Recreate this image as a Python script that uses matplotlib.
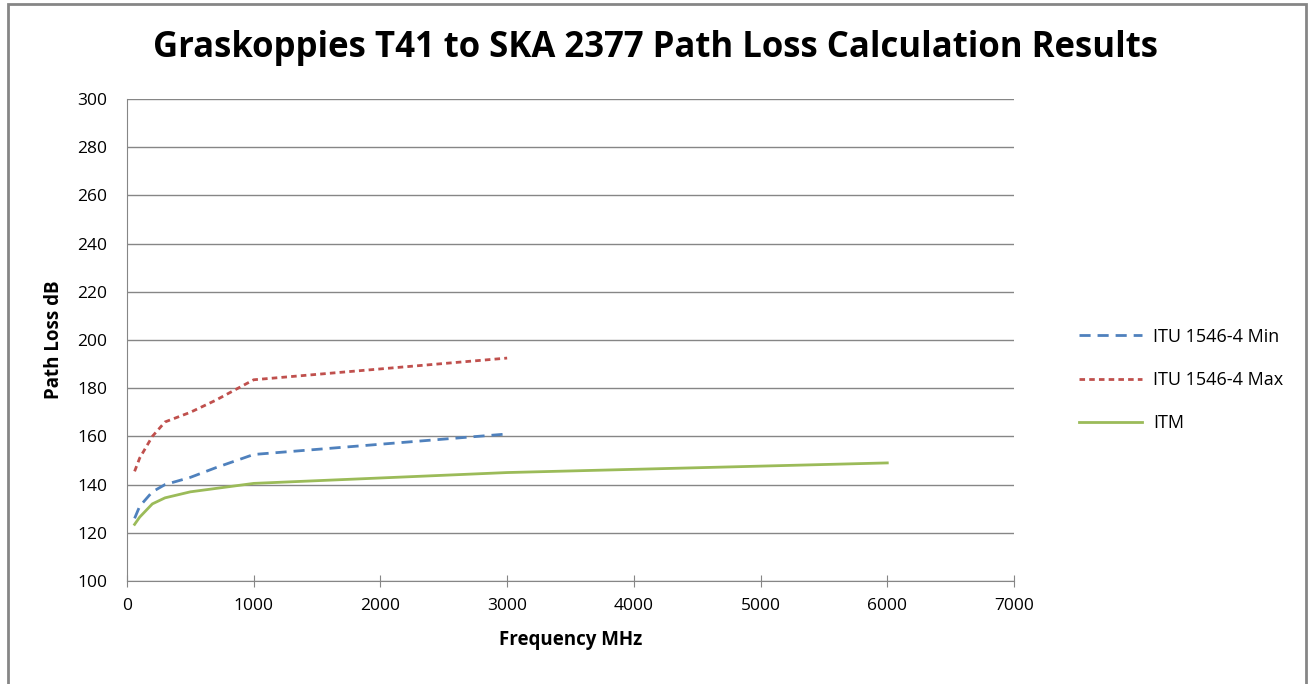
import matplotlib
matplotlib.use('Agg')
import matplotlib.pyplot as plt
from matplotlib.patches import Rectangle

plt.rcParams['font.family'] = ['Open Sans', 'DejaVu Sans']

# data
freq_itu = [60, 100, 200, 300, 500, 700, 1000, 3000]
itu_min = [126, 131, 137, 140, 143, 147, 152.5, 161]
itu_max = [145.5, 151, 160, 166, 170, 175, 183.5, 192.5]

freq_itm = [60, 100, 200, 300, 500, 1000, 3000, 6000]
itm = [123.5, 126.5, 132, 134.5, 137, 140.5, 145, 149]

x_ticks = [0, 1000, 2000, 3000, 4000, 5000, 6000, 7000]
y_ticks = [100, 120, 140, 160, 180, 200, 220, 240, 260, 280, 300]

fig = plt.figure(figsize=(13.11, 6.84), dpi=100)
ax = fig.add_axes([127/1311, 1-581/684, (1014-127)/1311, (581-99)/684])

# outer chart frame
fig.patches.append(Rectangle((8/1311, -0.01), (1306-8)/1311, 1-4/684+0.01,
                             transform=fig.transFigure, fill=False,
                             edgecolor='#868686', linewidth=2))

ax.plot(freq_itu, itu_min, color='#4F81BD', lw=2, dashes=(4, 2.5), label='ITU 1546-4 Min')
ax.plot(freq_itu, itu_max, color='#C0504D', lw=2, dashes=(2, 1.5), label='ITU 1546-4 Max')
ax.plot(freq_itm, itm, color='#9BBB59', lw=2, label='ITM')

ax.set_xlim(0, 7000)
ax.set_ylim(100, 300)
ax.set_xticks(x_ticks)
ax.set_yticks(y_ticks)
ax.grid(axis='y', color='#868686', lw=1)
ax.set_axisbelow(True)
for s in ['top', 'right']:
    ax.spines[s].set_visible(False)
for s in ['left', 'bottom']:
    ax.spines[s].set_color('#868686')
ax.tick_params(axis='x', direction='inout', length=8, color='#868686', labelsize=12.5, pad=8)
ax.tick_params(axis='y', length=0, labelsize=12.5, pad=14)

ax.set_xlabel('Frequency MHz', fontsize=13.5, fontweight='bold', labelpad=12)
ax.set_ylabel('Path Loss dB', fontsize=13.5, fontweight='bold', labelpad=10)
fig.text(0.5, 1-48/684, 'Graskoppies T41 to SKA 2377 Path Loss Calculation Results',
         ha='center', va='center', fontsize=25, fontweight='bold')

ax.legend(loc='center left', bbox_to_anchor=(1.055, 0.417), frameon=False,
          fontsize=13, handlelength=3.5, handletextpad=0.6, labelspacing=1.4)

fig.savefig('out.png', dpi=100)
